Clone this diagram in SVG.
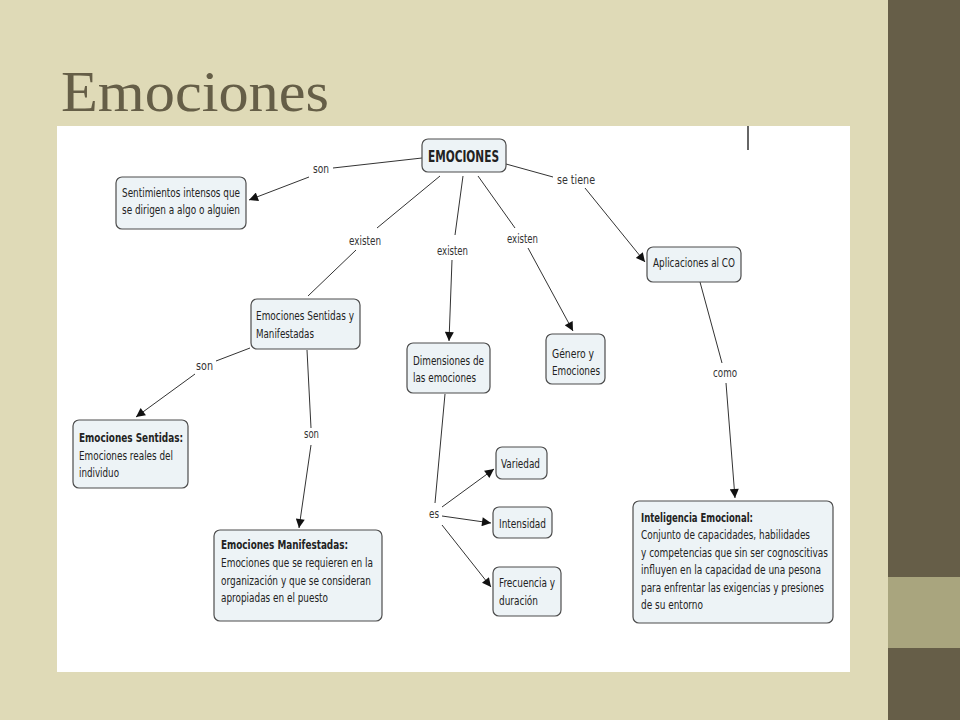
<svg xmlns="http://www.w3.org/2000/svg" width="960" height="720" viewBox="0 0 960 720">
<defs>
<style>
.n rect{fill:#edf3f6;stroke:#4d4d4d;stroke-width:1.2}
.n text,.lb{font-family:"DejaVu Sans Condensed","DejaVu Sans",sans-serif;font-size:13px;fill:#222}
.b{font-weight:bold}
.lb{fill:#333}
.c line,.c polyline{stroke:#333;stroke-width:1;fill:none}
.a{marker-end:url(#ah)}
</style>
<marker id="ah" viewBox="0 0 10 10" refX="10" refY="5" markerWidth="11" markerHeight="9" markerUnits="userSpaceOnUse" orient="auto">
<path d="M0,0 L10,5 L0,10 Z" fill="#111"/>
</marker>
</defs>
<rect x="0" y="0" width="960" height="720" fill="#dfdab7"/>
<rect x="888" y="0" width="72" height="720" fill="#665e48"/>
<rect x="888" y="577" width="72" height="71" fill="#a9a57e"/>
<text x="61" y="111" font-family="Liberation Serif,serif" font-size="58" fill="#655e47" textLength="268" lengthAdjust="spacingAndGlyphs">Emociones</text>
<rect x="57" y="126" width="793" height="546" fill="#ffffff"/>
<line x1="748" y1="126" x2="748" y2="150" stroke="#333" stroke-width="1.5"/>

<g class="c">
<polyline points="422,158 333,168"/>
<line x1="309" y1="177" x2="249" y2="200" class="a"/>
<polyline points="506,164 553,177"/>
<line x1="585" y1="188" x2="645" y2="262" class="a"/>
<polyline points="440,176 377,228"/>
<line x1="356" y1="250" x2="308" y2="296"/>
<polyline points="463,176 455,235"/>
<line x1="452" y1="260" x2="449" y2="341" class="a"/>
<polyline points="478,176 515,228"/>
<line x1="528" y1="248" x2="573" y2="331" class="a"/>
<polyline points="700,282 722,363"/>
<line x1="726" y1="383" x2="735" y2="498" class="a"/>
<polyline points="250,348 216,361"/>
<line x1="195" y1="374" x2="136" y2="417" class="a"/>
<polyline points="307,350 311,428"/>
<line x1="311" y1="445" x2="299" y2="528" class="a"/>
<line x1="445" y1="394" x2="435" y2="503"/>
<line x1="442" y1="507" x2="494" y2="469" class="a"/>
<line x1="442" y1="516" x2="491" y2="523" class="a"/>
<line x1="442" y1="525" x2="491" y2="587" class="a"/>
</g>

<g id="labels">
<text class="lb" x="313" y="173" textLength="16" lengthAdjust="spacingAndGlyphs">son</text>
<text class="lb" x="557" y="184" textLength="38" lengthAdjust="spacingAndGlyphs">se tiene</text>
<text class="lb" x="349" y="245" textLength="32" lengthAdjust="spacingAndGlyphs">existen</text>
<text class="lb" x="437" y="255" textLength="31" lengthAdjust="spacingAndGlyphs">existen</text>
<text class="lb" x="507" y="243" textLength="31" lengthAdjust="spacingAndGlyphs">existen</text>
<text class="lb" x="713" y="377" textLength="24" lengthAdjust="spacingAndGlyphs">como</text>
<text class="lb" x="196" y="370" textLength="17" lengthAdjust="spacingAndGlyphs">son</text>
<text class="lb" x="304" y="438" textLength="15" lengthAdjust="spacingAndGlyphs">son</text>
<text class="lb" x="429" y="518" textLength="10" lengthAdjust="spacingAndGlyphs">es</text>
</g>

<g id="emociones" class="n">
<rect x="422" y="139" width="84" height="33" rx="6"/>
<text class="b" x="428" y="162" style="font-size:15px" textLength="71" lengthAdjust="spacingAndGlyphs">EMOCIONES</text>
</g>
<g id="sentimientos" class="n">
<rect x="116" y="177" width="130" height="52" rx="6"/>
<text x="122" y="197" textLength="118" lengthAdjust="spacingAndGlyphs">Sentimientos intensos que</text>
<text x="122" y="214" textLength="118" lengthAdjust="spacingAndGlyphs">se dirigen a algo o alguien</text>
</g>
<g id="aplicaciones" class="n">
<rect x="647" y="247" width="94" height="35" rx="6"/>
<text x="653" y="267" textLength="82" lengthAdjust="spacingAndGlyphs">Aplicaciones al CO</text>
</g>
<g id="sentidas-manifestadas" class="n">
<rect x="251" y="299" width="109" height="50" rx="6"/>
<text x="256" y="320" textLength="98" lengthAdjust="spacingAndGlyphs">Emociones Sentidas y</text>
<text x="256" y="338" textLength="58" lengthAdjust="spacingAndGlyphs">Manifestadas</text>
</g>
<g id="dimensiones" class="n">
<rect x="407" y="343" width="83" height="50" rx="6"/>
<text x="413" y="365" textLength="71" lengthAdjust="spacingAndGlyphs">Dimensiones de</text>
<text x="413" y="382" textLength="63" lengthAdjust="spacingAndGlyphs">las emociones</text>
</g>
<g id="genero" class="n">
<rect x="546" y="334" width="59" height="50" rx="6"/>
<text x="552" y="358" textLength="42" lengthAdjust="spacingAndGlyphs">Género y</text>
<text x="552" y="375" textLength="48" lengthAdjust="spacingAndGlyphs">Emociones</text>
</g>
<g id="sentidas" class="n">
<rect x="73" y="420" width="115" height="68" rx="6"/>
<text class="b" x="79" y="442" textLength="104" lengthAdjust="spacingAndGlyphs">Emociones Sentidas:</text>
<text x="79" y="460" textLength="94" lengthAdjust="spacingAndGlyphs">Emociones reales del</text>
<text x="79" y="477" textLength="40" lengthAdjust="spacingAndGlyphs">individuo</text>
</g>
<g id="manifestadas" class="n">
<rect x="214" y="530" width="168" height="91" rx="6"/>
<text class="b" x="221" y="549" textLength="127" lengthAdjust="spacingAndGlyphs">Emociones Manifestadas:</text>
<text x="221" y="567" textLength="152" lengthAdjust="spacingAndGlyphs">Emociones que se requieren en la</text>
<text x="221" y="585" textLength="150" lengthAdjust="spacingAndGlyphs">organización y que se consideran</text>
<text x="221" y="602" textLength="107" lengthAdjust="spacingAndGlyphs">apropiadas en el puesto</text>
</g>
<g id="variedad" class="n">
<rect x="496" y="447" width="51" height="32" rx="6"/>
<text x="501" y="468" textLength="39" lengthAdjust="spacingAndGlyphs">Variedad</text>
</g>
<g id="intensidad" class="n">
<rect x="493" y="507" width="59" height="31" rx="6"/>
<text x="499" y="528" textLength="47" lengthAdjust="spacingAndGlyphs">Intensidad</text>
</g>
<g id="frecuencia" class="n">
<rect x="493" y="567" width="68" height="49" rx="6"/>
<text x="499" y="587" textLength="56" lengthAdjust="spacingAndGlyphs">Frecuencia y</text>
<text x="499" y="605" textLength="39" lengthAdjust="spacingAndGlyphs">duración</text>
</g>
<g id="inteligencia" class="n">
<rect x="633" y="501" width="200" height="122" rx="6"/>
<text class="b" x="641" y="522" textLength="112" lengthAdjust="spacingAndGlyphs">Inteligencia Emocional:</text>
<text x="641" y="539" textLength="169" lengthAdjust="spacingAndGlyphs">Conjunto de capacidades, habilidades</text>
<text x="641" y="557" textLength="187" lengthAdjust="spacingAndGlyphs">y competencias que sin ser cognoscitivas</text>
<text x="641" y="574" textLength="180" lengthAdjust="spacingAndGlyphs">influyen en la capacidad de una pesona</text>
<text x="641" y="592" textLength="183" lengthAdjust="spacingAndGlyphs">para enfrentar las exigencias y presiones</text>
<text x="641" y="609" textLength="62" lengthAdjust="spacingAndGlyphs">de su entorno</text>
</g>
</svg>
